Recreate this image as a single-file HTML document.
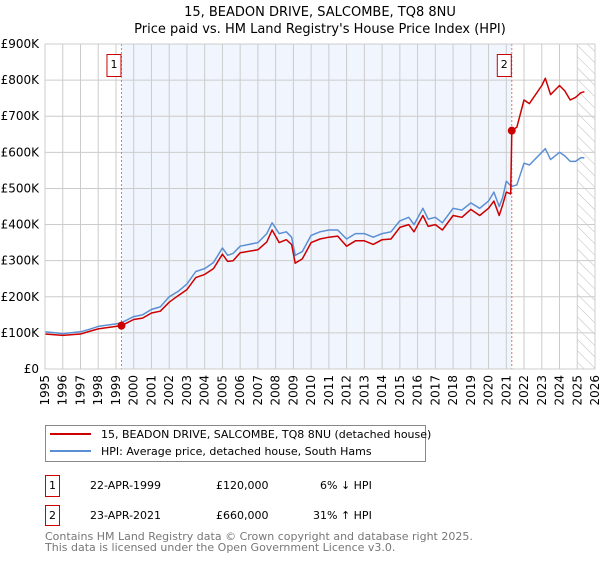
<!DOCTYPE html>
<html><head><meta charset="utf-8"><style>
body{margin:0;background:#fff;font-family:"Liberation Sans","DejaVu Sans",sans-serif}
</style></head><body>
<svg width="600" height="560" xmlns="http://www.w3.org/2000/svg" font-family="DejaVu Sans, Liberation Sans, sans-serif">
<text x="320" y="16" text-anchor="middle" font-size="13">15, BEADON DRIVE, SALCOMBE, TQ8 8NU</text>
<text x="320" y="33" text-anchor="middle" font-size="13">Price paid vs. HM Land Registry's House Price Index (HPI)</text>
<g id="plot"></g>
<g>
<rect x="45.5" y="425.5" width="380" height="36" fill="#fff" stroke="#888"/>
<line x1="50" y1="434" x2="91" y2="434" stroke="#cc0000" stroke-width="2"/>
<text x="101" y="438" font-size="11">15, BEADON DRIVE, SALCOMBE, TQ8 8NU (detached house)</text>
<line x1="50" y1="451" x2="91" y2="451" stroke="#5b8fd4" stroke-width="2"/>
<text x="101" y="455" font-size="11">HPI: Average price, detached house, South Hams</text>
</g>
<g font-size="11">
<rect x="45.5" y="475.5" width="14" height="21" fill="none" stroke="#cc0000"/><text x="52.5" y="489" text-anchor="middle">1</text>
<text x="90" y="489">22-APR-1999</text><text x="216" y="489">£120,000</text><text x="320" y="489">6% ↓ HPI</text>
<rect x="45.5" y="505.5" width="14" height="20" fill="none" stroke="#cc0000"/><text x="52.5" y="519" text-anchor="middle">2</text>
<text x="90" y="519">23-APR-2021</text><text x="216" y="519">£660,000</text><text x="313" y="519">31% ↑ HPI</text>
</g>
<text x="45" y="540" font-size="11" fill="#777">Contains HM Land Registry data © Crown copyright and database right 2025.</text>
<text x="45" y="551" font-size="11" fill="#777">This data is licensed under the Open Government Licence v3.0.</text>
</svg>
<script>
const years=[1995,1996,1997,1998,1999,2000,2001,2002,2003,2004,2005,2006,2007,2008,2009,2010,2011,2012,2013,2014,2015,2016,2017,2018,2019,2020,2021,2022,2023,2024,2025,2026];
const yTicks=[0,100000,200000,300000,400000,500000,600000,700000,800000,900000];
const yTickLabels=["£0","£100K","£200K","£300K","£400K","£500K","£600K","£700K","£800K","£900K"];
const hpiDates=[1995,1996,1997,1997.5,1998,1999,1999.3,2000,2000.5,2001,2001.5,2002,2002.5,2003,2003.5,2004,2004.5,2005,2005.3,2005.6,2006,2007,2007.5,2007.8,2008.2,2008.6,2008.9,2009.1,2009.5,2010,2010.5,2011,2011.5,2012,2012.5,2013,2013.5,2014,2014.5,2015,2015.5,2015.8,2016.3,2016.6,2017,2017.4,2018,2018.5,2019,2019.5,2020,2020.3,2020.6,2020.8,2021,2021.3,2021.6,2022,2022.3,2023,2023.2,2023.5,2024,2024.3,2024.6,2024.9,2025.2,2025.4];
const hpiValues=[103,98,103,110,118,125,128,145,150,165,172,200,215,235,270,278,295,335,315,320,340,350,375,405,375,380,365,315,325,370,380,385,385,360,375,375,365,375,380,410,420,400,445,415,420,405,445,440,460,445,465,490,450,475,520,505,510,570,565,600,610,580,600,590,575,575,585,585];
const priceDates=[1995,1996,1997,1997.5,1998,1999,1999.3,2000,2000.5,2001,2001.5,2002,2002.5,2003,2003.5,2004,2004.5,2005,2005.3,2005.6,2006,2007,2007.5,2007.8,2008.2,2008.6,2008.9,2009.1,2009.5,2010,2010.5,2011,2011.5,2012,2012.5,2013,2013.5,2014,2014.5,2015,2015.5,2015.8,2016.3,2016.6,2017,2017.4,2018,2018.5,2019,2019.5,2020,2020.3,2020.6,2020.8,2021,2021.25,2021.31,2021.6,2022,2022.3,2023,2023.2,2023.5,2024,2024.3,2024.6,2024.9,2025.2,2025.4];
const priceValues=[97,93,97,104,111,118,120,137,141,155,160,185,203,220,253,262,278,318,298,300,322,330,352,385,350,358,345,293,305,350,360,365,368,340,355,355,345,358,360,392,400,380,425,395,400,385,425,420,442,425,445,465,425,455,490,485,660,670,745,735,785,805,760,785,770,745,752,765,768];
const saleDates=[1999.31,2021.31];
const saleValues=[120000,660000];
const saleLabels=["1","2"];

const X0=45,X1=595,Y0=369,Y1=44;
const xs=v=>X0+(v-1995)/(2026-1995)*(X1-X0);
const ys=v=>Y0-v/900000*(Y0-Y1);
const NS="http://www.w3.org/2000/svg";
const g=document.getElementById('plot');
function mk(t,a){const e=document.createElementNS(NS,t);for(const k in a)e.setAttribute(k,a[k]);g.appendChild(e);return e;}
let r=mk('rect',{x:xs(saleDates[0]),y:Y1,width:xs(saleDates[1])-xs(saleDates[0]),height:Y0-Y1,fill:'#eef3fc',opacity:0.8});


const defs=document.createElementNS(NS,'defs');defs.innerHTML='<pattern id="h" width="8" height="8" patternUnits="userSpaceOnUse" patternTransform="rotate(-45)"><line x1="0" y1="0" x2="0" y2="8" stroke="#bbb" stroke-width="1"/></pattern>';g.appendChild(defs);
let hz=mk('rect',{x:xs(2025),y:Y1,width:xs(2026)-xs(2025),height:Y0-Y1,fill:'url(#h)'});


years.forEach(y=>{
 let l=mk('line',{x1:xs(y),x2:xs(y),y1:Y1,y2:Y0,stroke:'#ccc','stroke-width':1});
 
 
 let t=mk('text',{x:0,y:0,'font-size':12,'text-anchor':'end',transform:`translate(${xs(y)+4},${Y0+6}) rotate(-90)`});
 t.textContent=y;
 
 
});
yTicks.forEach((v,i)=>{
 let l=mk('line',{x1:X0,x2:X1,y1:ys(v),y2:ys(v),stroke:'#ccc','stroke-width':1});
 
 
 let t=mk('text',{x:X0-6,y:ys(v)+4,'font-size':12,'text-anchor':'end'});
 t.textContent=yTickLabels[i];
 
 
});
saleDates.forEach((d,i)=>{
 let l=mk('line',{x1:xs(d),x2:xs(d),y1:Y1,y2:Y0,stroke:'#e87070','stroke-width':1,'stroke-dasharray':'2,2'});
 
 
 let b=mk('rect',{x:xs(d)-14.5,y:54.5,width:14,height:22,fill:'#fff',stroke:'#cc0000'});
 
 
 let t=mk('text',{x:xs(d)-7.5,y:68,'font-size':11,'text-anchor':'middle'});
 t.textContent=saleLabels[i];
 
 
});
function line(dates,vals,col,name){
 const d=dates.map((x,i)=>(i?'L':'M')+xs(x).toFixed(1)+','+ys(vals[i]*1000).toFixed(1)).join('');
 let p=mk('path',{d:d,fill:'none',stroke:col,'stroke-width':1.5,'stroke-linejoin':'round'});
 
 
}
line(hpiDates,hpiValues,'#5b8fd4','hpi-line');
line(priceDates,priceValues,'#cc0000','price-line');
saleDates.forEach((d,i)=>{
 let c=mk('circle',{cx:xs(d),cy:ys(saleValues[i]),r:4,fill:'#cc0000'});
 
 
});
let ax=mk('rect',{x:X0,y:Y1,width:X1-X0,height:Y0-Y1,fill:'none',stroke:'#ccc'});


</script>
</body></html>
